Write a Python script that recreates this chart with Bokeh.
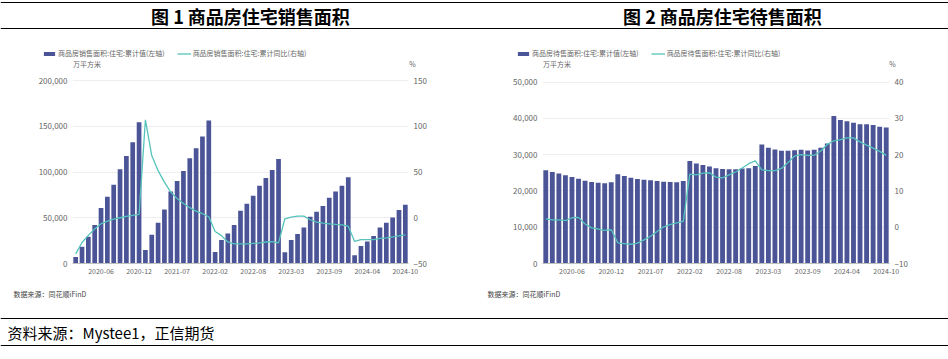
from bokeh.plotting import figure
from bokeh.models import (ColumnDataSource, Range1d, LinearAxis, FixedTicker,
                          NumeralTickFormatter, Legend, LegendItem)
from bokeh.layouts import column, row
from bokeh.core.properties import value
from bokeh.embed import file_html
from bokeh.resources import INLINE

# ---------------- data ----------------
dates = (["2020-%02d" % m for m in range(2, 13)] +
         ["2021-%02d" % m for m in range(2, 13)] +
         ["2022-%02d" % m for m in range(2, 13)] +
         ["2023-%02d" % m for m in range(2, 13)] +
         ["2024-%02d" % m for m in range(2, 11)])

sales_cum = [7000, 18300, 29200, 42000, 60600, 73000, 86100, 103000, 117500, 132500, 154400,
             14700, 31400, 44600, 59100, 78800, 90200, 101100, 115000, 125900, 138700, 156200,
             12500, 25600, 32800, 42000, 57700, 65400, 74100, 85100, 93500, 102200, 114300,
             12400, 25600, 32200, 39400, 51100, 56600, 62800, 71900, 78800, 85100, 94200,
             9000, 19000, 24000, 30000, 39400, 44600, 50400, 58400, 64200]
sales_yoy = [-39.5, -27.0, -19.3, -12.2, -6.6, -3.8, -1.6, 0.0, 1.4, 2.5, 3.6,
             107.0, 68.0, 51.5, 39.0, 28.0, 21.0, 15.5, 11.0, 7.3, 4.4, 1.1,
             -15.0, -19.5, -26.5, -28.5, -28.5, -28.5, -28.0, -27.5, -26.5, -26.0, -27.5,
             -1.1, 0.7, 1.8, 1.8, -2.2, -4.7, -5.9, -6.6, -7.3, -7.7, -9.2,
             -25.9, -24.0, -24.0, -24.0, -22.6, -21.9, -21.0, -19.7, -18.6]

stock_cum = [25680, 25210, 24760, 24290, 23820, 23360, 22800, 22440, 22260, 22080, 22350,
             24570, 24100, 23650, 23270, 23100, 22910, 22710, 22540, 22440, 22350, 22710,
             28260, 27530, 27150, 26700, 26230, 26040, 25960, 25960, 26150, 26230, 26870,
             32790, 31860, 31410, 31030, 31030, 31220, 31310, 31130, 31310, 31860, 33070,
             40640, 39530, 39170, 38780, 38330, 38330, 38140, 37680, 37500]
stock_yoy = [2.3, 2.0, 2.0, 1.8, 2.6, 2.7, 0.9, -0.2, -0.5, -0.9, -0.7,
             -4.3, -4.5, -4.7, -4.4, -3.5, -2.5, -1.2, 0.1, 0.7, 1.2, 1.6,
             14.6, 14.4, 14.9, 15.0, 13.8, 13.6, 14.4, 15.2, 16.3, 17.5, 18.3,
             15.8, 15.6, 15.6, 16.2, 17.8, 19.6, 20.0, 19.8, 19.8, 21.0, 22.8,
             23.8, 24.1, 24.6, 24.6, 23.5, 22.6, 21.8, 20.9, 19.8]

shown_ticks = ["2020-06", "2020-12", "2021-07", "2022-02", "2022-08",
               "2023-03", "2023-09", "2024-04", "2024-10"]

titles = ["图 1  商品房住宅销售面积", "图 2  商品房住宅待售面积"]
legend1 = ["商品房销售面积:住宅:累计值(左轴)", "商品房销售面积:住宅:累计同比(右轴)"]
legend2 = ["商品房待售面积:住宅:累计值(左轴)", "商品房待售面积:住宅:累计同比(右轴)"]
unit_left = "万平方米"
unit_right = "%"
src_note = "数据来源：同花顺iFinD"
footer_note = "资料来源：Mystee1，正信期货"

BAR = "#4a5496"
LINE = "#55c3bb"
GRAY = "#666666"
FONT = "Noto Sans CJK SC"

# ---------------- layout geometry (page pixels) ----------------
HEAD_H = 68          # header: rules, titles, legends, units
MAIN_TOP = HEAD_H
FOOT_TOP = 284
MAIN_H = FOOT_TOP - MAIN_TOP
AXIS_Y = 263         # page y of x-axis


def style_axis(ax, size):
    ax.major_tick_line_color = None
    ax.minor_tick_line_color = None
    ax.major_tick_out = 0
    ax.major_tick_in = 0
    ax.minor_tick_out = 0
    ax.minor_tick_in = 0
    ax.major_label_text_font = FONT
    ax.major_label_text_font_size = size
    ax.major_label_text_color = GRAY


def make_chart(vals, yoy, ymax, ystep, rmin, rmax, rstep,
               mb_left, mb_right, data_top):
    n = len(dates)
    W = 474
    mb_bottom = FOOT_TOP - AXIS_Y
    fh = MAIN_H - mb_bottom                 # frame height (px)
    dh = AXIS_Y - data_top                  # px used by the tick span
    k = fh / dh
    p = figure(width=W, height=MAIN_H, x_range=Range1d(-0.5, n - 0.5),
               y_range=Range1d(0, ymax * k), toolbar_location=None, tools="",
               output_backend="svg", min_border_left=mb_left,
               min_border_right=mb_right, min_border_top=0,
               min_border_bottom=mb_bottom)
    p.outline_line_color = None
    src = ColumnDataSource(dict(x=list(range(n)), v=vals, r=yoy))
    p.extra_y_ranges = {"r": Range1d(rmin, rmin + (rmax - rmin) * k)}

    p.vbar(x="x", top="v", width=0.74, source=src, fill_color=BAR, line_color=None)
    p.line(x="x", y="r", source=src, y_range_name="r", line_color=LINE, line_width=1.3)

    idx = [dates.index(d) for d in shown_ticks]
    xa = p.xaxis[0]
    xa.ticker = FixedTicker(ticks=idx)
    xa.major_label_overrides = {i: dates[i] for i in idx}
    style_axis(xa, "7px")
    xa.axis_line_color = "#bfbfbf"
    xa.major_label_standoff = 4

    ya = p.yaxis[0]
    ya.ticker = FixedTicker(ticks=list(range(0, ymax + 1, ystep)))
    ya.formatter = NumeralTickFormatter(format="0,0")
    style_axis(ya, "8px")
    ya.axis_line_color = None
    ya.major_label_standoff = 5

    ra = LinearAxis(y_range_name="r",
                    ticker=FixedTicker(ticks=list(range(rmin, rmax + 1, rstep))))
    style_axis(ra, "8px")
    ra.axis_line_color = None
    ra.major_label_standoff = 5
    p.add_layout(ra, "right")

    p.xgrid.visible = False
    p.ygrid.grid_line_color = "#eeeeee"
    p.ygrid.ticker = ya.ticker
    return p


f1 = make_chart(sales_cum, sales_yoy, 200000, 50000, -50, 150, 50,
                mb_left=72, mb_right=66, data_top=80)
f2 = make_chart(stock_cum, stock_yoy, 50000, 10000, -10, 40, 10,
                mb_left=68, mb_right=59, data_top=81.5)

# ---------------- header: rules, titles, legends, units ----------------
head = figure(width=948, height=HEAD_H, x_range=Range1d(0, 948),
              y_range=Range1d(HEAD_H, 0), x_axis_type=None, y_axis_type=None,
              min_border=0, toolbar_location=None, tools="", output_backend="svg")
head.outline_line_color = None
head.segment(x0=[0, 0], y0=[2, 28], x1=[948, 948], y1=[2, 28],
             line_color="black", line_width=1.2)
head.text(x=[252, 724], y=[15, 15], text=titles, text_font=value(FONT),
          text_font_style="bold", text_font_size="18px", text_align="center",
          text_baseline="middle", text_color="black")
head.text(x=[86.5, 412, 556.5, 892], y=[63, 63, 63, 63],
          text=[unit_left, unit_right, unit_left, unit_right], text_font=value(FONT),
          text_font_size="7px", text_align="center", text_baseline="middle",
          text_color=GRAY)

# legend keys styled like the chart series (one point each, outside the view)
kb = head.vbar(x=[-500], top=[-500], width=1, fill_color=BAR, line_color=None)
kl = head.line(x=[-500, -400], y=[-500, -500], line_color=LINE, line_width=1.3)
for labels, lx in ((legend1, 42), (legend2, 516)):
    leg = Legend(items=[LegendItem(label=labels[0], renderers=[kb]),
                        LegendItem(label=labels[1], renderers=[kl])],
                 orientation="horizontal", location=(lx, HEAD_H - 58),
                 border_line_color=None, background_fill_alpha=0,
                 padding=0, margin=0, spacing=12, label_standoff=2,
                 glyph_width=14, glyph_height=5, label_height=9,
                 label_text_font=FONT, label_text_font_size="7px",
                 label_text_color=GRAY)
    head.add_layout(leg)

# ---------------- footer: source notes and rules ----------------
FOOT_H = 359 - FOOT_TOP
foot = figure(width=948, height=FOOT_H, x_range=Range1d(0, 948),
              y_range=Range1d(FOOT_H, 0), x_axis_type=None, y_axis_type=None,
              min_border=0, toolbar_location=None, tools="", output_backend="svg")
foot.outline_line_color = None
foot.text(x=[13, 487], y=[293 - FOOT_TOP] * 2, text=[src_note, src_note],
          text_font=value(FONT), text_font_size="7px", text_align="left",
          text_baseline="middle", text_color="#444444")
foot.segment(x0=[0, 0], y0=[318 - FOOT_TOP, 345 - FOOT_TOP], x1=[948, 948],
             y1=[318 - FOOT_TOP, 345 - FOOT_TOP], line_color="black", line_width=1.2)
foot.text(x=[7], y=[332 - FOOT_TOP], text=[footer_note], text_font=value(FONT),
          text_font_size="15px", text_align="left", text_baseline="middle",
          text_color="black")

layout = column(head, row(f1, f2), foot)

open("out.html", "w").write(file_html(layout, INLINE))
